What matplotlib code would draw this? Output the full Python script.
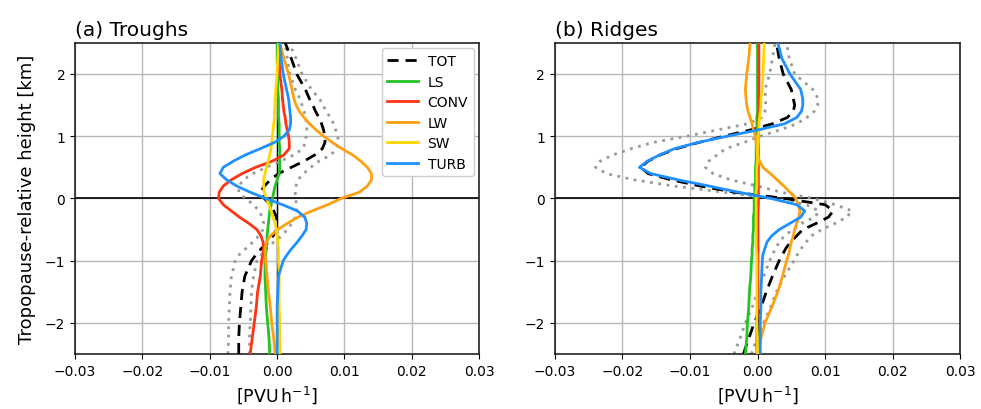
import matplotlib
matplotlib.use("Agg")
import matplotlib.pyplot as plt
import numpy as np

# shared height grid [km]
heights = [-2.5, -2.25, -2.0, -1.75, -1.5, -1.25, -1.0, -0.9, -0.8, -0.7, -0.6,
           -0.5, -0.4, -0.3, -0.2, -0.1, 0.0, 0.1, 0.2, 0.3, 0.4, 0.5, 0.6, 0.7,
           0.8, 0.9, 1.0, 1.1, 1.2, 1.3, 1.4, 1.5, 1.6, 1.75, 2.0, 2.25, 2.5]

# ---------------- (a) Troughs ----------------
tot_a = [-0.0057, -0.0057, -0.0056, -0.0054, -0.0052, -0.0048, -0.0038, -0.0031, -0.0023, -0.0013, -0.0006,
         -0.0001, 0.0000, -0.0001, -0.0005, -0.0010, -0.0019, -0.0025, -0.0019, -0.0010, 0.0002, 0.0021, 0.0040, 0.0056,
         0.0067, 0.0071, 0.0071, 0.0069, 0.0066, 0.0062, 0.0057, 0.0053, 0.0048, 0.0042, 0.0029, 0.0021, 0.0012]
tot_a_hi = [-0.0041, -0.0041, -0.0040, -0.0039, -0.0038, -0.0035, -0.0030, -0.0023, -0.0015, -0.0005, 0.0007,
            0.0015, 0.0022, 0.0027, 0.0029, 0.0029, 0.0027, 0.0027, 0.0028, 0.0031, 0.0039, 0.0050, 0.0062, 0.0080,
            0.0088, 0.0091, 0.0090, 0.0087, 0.0084, 0.0079, 0.0073, 0.0068, 0.0063, 0.0051, 0.0037, 0.0028, 0.0018]
tot_a_lo = [-0.0073, -0.0072, -0.0072, -0.0071, -0.0070, -0.0068, -0.0062, -0.0056, -0.0046, -0.0036, -0.0027,
            -0.0021, -0.0020, -0.0022, -0.0027, -0.0035, -0.0047, -0.0057, -0.0057, -0.0050, -0.0036, -0.0016, 0.0005, 0.0025,
            0.0038, 0.0042, 0.0043, 0.0044, 0.0044, 0.0042, 0.0040, 0.0037, 0.0034, 0.0027, 0.0019, 0.0015, 0.0012]
ls_a = [-0.0011, -0.0012, -0.0014, -0.0016, -0.0017, -0.0018, -0.0018, -0.0017, -0.0016, -0.0015, -0.0015,
        -0.0014, -0.0013, -0.0012, -0.0011, -0.0009, -0.0007, -0.0005, -0.0003, 0.0000, 0.0003, 0.0004, 0.0004, 0.0004,
        0.0004, 0.0003, 0.0003, 0.0003, 0.0003, 0.0002, 0.0002, 0.0002, 0.0002, 0.0001, 0.0001, 0.0000, 0.0000]
conv_a = [-0.0040, -0.0037, -0.0034, -0.0031, -0.0029, -0.0025, -0.0023, -0.0021, -0.0020, -0.0021, -0.0024,
          -0.0030, -0.0042, -0.0056, -0.0068, -0.0080, -0.0087, -0.0086, -0.0080, -0.0068, -0.0052, -0.0032, -0.0007, 0.0010,
          0.0018, 0.0018, 0.0017, 0.0015, 0.0013, 0.0012, 0.0010, 0.0009, 0.0008, 0.0007, 0.0004, 0.0003, 0.0003]
lw_a = [-0.0003, -0.0005, -0.0008, -0.0010, -0.0013, -0.0015, -0.0017, -0.0018, -0.0018, -0.0016, -0.0010,
        0.0001, 0.0015, 0.0031, 0.0052, 0.0075, 0.0095, 0.0122, 0.0134, 0.0140, 0.0140, 0.0134, 0.0124, 0.0112,
        0.0096, 0.0082, 0.0069, 0.0058, 0.0048, 0.0040, 0.0033, 0.0028, 0.0025, 0.0022, 0.0017, 0.0010, 0.0004]
sw_a = [0.0004, 0.0004, 0.0004, 0.0003, 0.0003, 0.0003, 0.0002, 0.0002, 0.0002, 0.0001, 0.0000,
        -0.0001, -0.0003, -0.0006, -0.0009, -0.0012, -0.0016, -0.0019, -0.0020, -0.0020, -0.0018, -0.0016, -0.0013, -0.0011,
        -0.0009, -0.0008, -0.0007, -0.0006, -0.0005, -0.0004, -0.0004, -0.0003, -0.0003, -0.0002, 0.0000, 0.0001, 0.0002]
turb_a = [0.0000, 0.0000, 0.0000, 0.0000, 0.0001, 0.0002, 0.0009, 0.0015, 0.0022, 0.0030, 0.0037,
          0.0043, 0.0044, 0.0041, 0.0030, 0.0008, -0.0017, -0.0040, -0.0060, -0.0075, -0.0085, -0.0080, -0.0065, -0.0047,
          -0.0025, -0.0004, 0.0010, 0.0018, 0.0020, 0.0020, 0.0019, 0.0018, 0.0017, 0.0014, 0.0009, 0.0006, 0.0004]

# ---------------- (b) Ridges ----------------
tot_b = [-0.0021, -0.0013, -0.0005, 0.0005, 0.0013, 0.0022, 0.0032, 0.0037, 0.0042, 0.0049, 0.0058,
         0.0067, 0.0087, 0.0105, 0.0112, 0.0100, 0.0040, -0.0034, -0.0085, -0.0128, -0.0162, -0.0173, -0.0162, -0.0144,
         -0.0120, -0.0087, -0.0050, -0.0011, 0.0022, 0.0044, 0.0053, 0.0055, 0.0053, 0.0050, 0.0038, 0.0032, 0.0028]
tot_b_hi = [-0.0009, -0.0001, 0.0009, 0.0019, 0.0028, 0.0040, 0.0054, 0.0059, 0.0065, 0.0072, 0.0080,
            0.0095, 0.0115, 0.0132, 0.0140, 0.0115, 0.0082, 0.0035, 0.0000, -0.0040, -0.0066, -0.0077, -0.0072, -0.0060,
            -0.0047, -0.0020, 0.0004, 0.0033, 0.0058, 0.0073, 0.0084, 0.0089, 0.0090, 0.0082, 0.0055, 0.0047, 0.0043]
tot_b_lo = [-0.0035, -0.0026, -0.0018, -0.0008, 0.0000, 0.0009, 0.0018, 0.0022, 0.0027, 0.0032, 0.0040,
            0.0052, 0.0065, 0.0085, 0.0091, 0.0072, 0.0024, -0.0050, -0.0124, -0.0183, -0.0224, -0.0240, -0.0233, -0.0214,
            -0.0187, -0.0155, -0.0105, -0.0060, -0.0015, 0.0006, 0.0011, 0.0012, 0.0012, 0.0011, 0.0018, 0.0022, 0.0026]
ls_b = [-0.0018, -0.0016, -0.0015, -0.0013, -0.0012, -0.0010, -0.0009, -0.0008, -0.0008, -0.0007, -0.0007,
        -0.0006, -0.0006, -0.0006, -0.0005, -0.0005, -0.0005, -0.0004, -0.0004, -0.0003, -0.0003, -0.0003, -0.0002, -0.0002,
        -0.0002, -0.0002, -0.0001, -0.0001, -0.0001, -0.0001, 0.0000, 0.0000, 0.0000, 0.0000, 0.0000, 0.0000, 0.0000]
conv_b = [-0.0001, -0.0001, -0.0001, 0.0000, 0.0000, 0.0000, 0.0000, 0.0000, 0.0000, 0.0000, 0.0000,
          0.0000, 0.0000, 0.0000, 0.0000, 0.0001, 0.0001, 0.0001, 0.0001, 0.0001, 0.0001, 0.0001, 0.0001, 0.0001,
          0.0001, 0.0001, 0.0001, 0.0001, 0.0001, 0.0001, 0.0002, 0.0002, 0.0002, 0.0002, 0.0002, 0.0002, 0.0002]
lw_b = [0.0001, 0.0005, 0.0011, 0.0021, 0.0030, 0.0037, 0.0043, 0.0046, 0.0048, 0.0050, 0.0053,
        0.0055, 0.0058, 0.0061, 0.0063, 0.0060, 0.0057, 0.0048, 0.0039, 0.0029, 0.0019, 0.0008, 0.0003, 0.0000,
        -0.0001, -0.0002, -0.0003, -0.0006, -0.0008, -0.0011, -0.0014, -0.0016, -0.0017, -0.0018, -0.0016, -0.0013, -0.0011]
sw_b = [0.0000, 0.0000, -0.0001, -0.0001, -0.0001, -0.0001, -0.0001, -0.0001, -0.0002, -0.0002, -0.0002,
        -0.0002, -0.0002, -0.0002, -0.0002, -0.0002, -0.0002, -0.0002, -0.0001, -0.0001, -0.0001, -0.0001, 0.0000, 0.0000,
        0.0000, 0.0001, 0.0001, 0.0002, 0.0002, 0.0003, 0.0004, 0.0005, 0.0005, 0.0007, 0.0008, 0.0009, 0.0010]
turb_b = [0.0004, 0.0004, 0.0004, 0.0005, 0.0005, 0.0006, 0.0007, 0.0008, 0.0011, 0.0014, 0.0021,
          0.0032, 0.0048, 0.0064, 0.0070, 0.0058, 0.0020, -0.0028, -0.0072, -0.0118, -0.0158, -0.0175, -0.0163, -0.0145,
          -0.0123, -0.0088, -0.0045, 0.0000, 0.0040, 0.0058, 0.0065, 0.0067, 0.0067, 0.0064, 0.0048, 0.0036, 0.0030]

series_names = ["TOT", "LS", "CONV", "LW", "SW", "TURB"]
colors = {"TOT": "black", "LS": "#22c322", "CONV": "#ff3311", "LW": "#ffa010",
          "SW": "#ffd700", "TURB": "#1e90ff"}
panel_titles = ["(a) Troughs", "(b) Ridges"]
xticks = [-0.03, -0.02, -0.01, 0.00, 0.01, 0.02, 0.03]
yticks = [-2, -1, 0, 1, 2]

panels = [
    dict(TOT=tot_a, LS=ls_a, CONV=conv_a, LW=lw_a, SW=sw_a, TURB=turb_a, hi=tot_a_hi, lo=tot_a_lo),
    dict(TOT=tot_b, LS=ls_b, CONV=conv_b, LW=lw_b, SW=sw_b, TURB=turb_b, hi=tot_b_hi, lo=tot_b_lo),
]

fig = plt.figure(figsize=(9.81, 4.10), dpi=100)
axes = [fig.add_axes([0.0765, 0.134, 0.412, 0.759]),
        fig.add_axes([0.5657, 0.134, 0.413, 0.759])]

for i, (ax, p) in enumerate(zip(axes, panels)):
    ax.grid(True, color="#b8b8b8", lw=1.0, zorder=0)
    ax.set_axisbelow(True)
    ax.axhline(0, color="black", lw=1.2, zorder=1)
    ax.axvline(0, color="black", lw=1.0, zorder=1)
    ax.plot(p["hi"], heights, color="#999999", ls=(0, (1, 2)), lw=2, zorder=2)
    ax.plot(p["lo"], heights, color="#999999", ls=(0, (1, 2)), lw=2, zorder=2)
    for name in series_names:
        if name == "TOT":
            ax.plot(p[name], heights, color=colors[name], ls=(0, (4, 2.5)), lw=2, label=name, zorder=3)
        else:
            ax.plot(p[name], heights, color=colors[name], lw=2, label=name, zorder=3)
    ax.set_xlim(-0.03, 0.03)
    ax.set_ylim(-2.5, 2.5)
    ax.set_xticks(xticks)
    ax.set_yticks(yticks)
    ax.set_xticklabels([f"{t:.2f}".replace("-", "\u2212") for t in xticks])
    ax.tick_params(labelsize=10)
    ax.set_title(panel_titles[i], loc="left", fontsize=14.5, pad=6)
    ax.set_xlabel(r"[PVU$\,$h$^{-1}$]", fontsize=12.5, labelpad=4)
    for s in ax.spines.values():
        s.set_linewidth(1.2)
        s.set_color("#222222")
    if i == 0:
        ax.set_ylabel("Tropopause-relative height [km]", fontsize=13, labelpad=6)
        ax.legend(loc="upper right", fontsize=10, framealpha=1.0, edgecolor="#cccccc",
                  handlelength=2.2, handletextpad=0.7, labelspacing=0.47,
                  borderpad=0.4, borderaxespad=0.4)

fig.savefig("out.png", dpi=100)
